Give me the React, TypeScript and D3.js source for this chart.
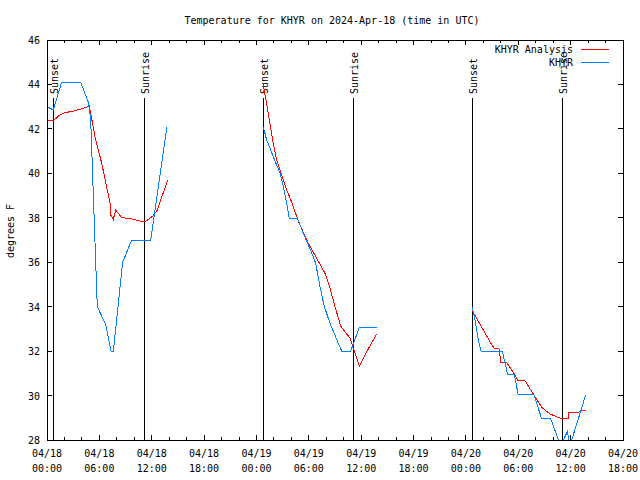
import React from "react";
import * as d3 from "d3";

// Time in hours since 2024-04-18 00:00 UTC, temperatures in degrees F
const obsHours1 = [0, 0.72, 1.68, 3.86, 4.73, 5.0, 5.76, 6.73, 7.33, 7.6, 8.67, 9.7, 11.88, 13.75];
const obsTemps1 = [43.0, 42.85, 44.1, 44.1, 43.2, 42.5, 34.0, 33.2, 32.0, 32.0, 36.0, 37.0, 37.0, 42.1];
const obsHours2 = [24.78, 25.17, 25.93, 26.7, 27.08, 27.47, 27.76, 28.73, 29.37, 30.51, 30.79, 31.28, 31.78, 32.43, 33.38, 33.77, 34.8, 35.79, 37.78];
const obsTemps2 = [42.1, 41.5, 40.75, 40.0, 39.4, 38.65, 37.98, 37.95, 37.3, 36.25, 35.95, 34.9, 34.0, 33.25, 32.35, 32.0, 32.0, 33.07, 33.07];
const obsHours3 = [48.73, 49.04, 49.42, 49.73, 52.17, 52.79, 53.55, 54.0, 55.8, 56.69, 57.72, 58.7, 59.05, 59.62, 59.85, 60.04, 61.73];
const obsTemps3 = [33.97, 33.4, 32.5, 32.0, 32.0, 30.93, 30.93, 30.03, 30.03, 28.95, 28.95, 27.9, 27.9, 28.37, 27.9, 27.9, 30.03];

const anaHours1 = [0, 0.72, 1.49, 2.06, 3.01, 3.97, 4.85, 5.5, 6.27, 7.22, 7.33, 7.6, 7.87, 8.56, 9.51, 10.66, 11.34, 12.18, 12.64, 13.83];
const anaTemps1 = [42.37, 42.37, 42.63, 42.73, 42.8, 42.9, 43.03, 41.65, 40.45, 38.67, 38.1, 37.93, 38.35, 38.0, 37.97, 37.85, 37.85, 38.1, 38.35, 39.7];
const anaHours2 = [24.78, 25.35, 25.86, 26.32, 26.7, 27.08, 27.47, 28.04, 28.68, 28.99, 29.94, 30.9, 31.85, 32.43, 33.0, 33.65, 34.15, 34.72, 35.29, 35.79, 36.63, 37.78];
const anaTemps2 = [44.0, 42.7, 41.5, 40.6, 40.15, 39.7, 39.25, 38.7, 37.98, 37.67, 36.85, 36.18, 35.5, 34.83, 34.0, 33.13, 32.87, 32.58, 31.9, 31.33, 31.97, 32.77];
const anaHours3 = [48.73, 49.24, 50.0, 50.76, 51.25, 51.79, 52.02, 52.68, 53.63, 53.94, 54.77, 55.72, 56.69, 57.64, 58.98, 59.73, 59.75, 60.96, 61.0, 61.73];
const anaTemps3 = [33.82, 33.47, 32.95, 32.42, 32.12, 32.12, 31.48, 31.48, 30.93, 30.67, 30.67, 30.07, 29.47, 29.17, 28.95, 28.95, 29.25, 29.25, 29.3, 29.35];

const sunsetHours = [0.72, 24.78, 48.73];
const sunriseHours = [11.15, 35.1, 59.05];

const yTicks = [28, 30, 32, 34, 36, 38, 40, 42, 44, 46];
const xMajorTicks = [0, 6, 12, 18, 24, 30, 36, 42, 48, 54, 60, 66];
const xMinorTicks = d3.range(0, 67, 2);
const dayLabels = ["04/18", "04/19", "04/20", "04/21"];

const title = "Temperature for KHYR on 2024-Apr-18 (time in UTC)";
const yLabel = "degrees F";
const analysisName = "KHYR Analysis";
const obsName = "KHYR";

const RED = "#ff0000";
const BLUE = "#0080ff";
const FONT = "'DejaVu Sans Mono', monospace";

export default function App() {
  const left = 47, right = 623, top = 40, bottom = 440;
  const x = d3.scaleLinear().domain([0, 66]).range([left, right]);
  const y = d3.scaleLinear().domain([28, 46]).range([bottom, top]);

  const line = d3
    .line<[number, number]>()
    .x((d) => x(d[0]))
    .y((d) => y(d[1]));

  const zip = (h: number[], t: number[]) => h.map((v, i) => [v, t[i]] as [number, number]);

  const obsSegs = [zip(obsHours1, obsTemps1), zip(obsHours2, obsTemps2), zip(obsHours3, obsTemps3)];
  const anaSegs = [zip(anaHours1, anaTemps1), zip(anaHours2, anaTemps2), zip(anaHours3, anaTemps3)];

  const pad = (n: number) => (n < 10 ? "0" + n : "" + n);

  return (
    <svg
      width={640}
      height={480}
      style={{ position: "absolute", left: 0, top: 0, background: "#fff" }}
      fontFamily={FONT}
      fontSize={10}
    >
      <defs>
        <clipPath id="plotclip">
          <rect x={left} y={top} width={right - left} height={bottom - top + 1} />
        </clipPath>
      </defs>
      <rect x={0} y={0} width={640} height={480} fill="#fff" />

      {/* title */}
      <text x={332} y={24} textAnchor="middle" fill="#000">
        {title}
      </text>

      {/* y label */}
      <text transform={`translate(14,231) rotate(-90)`} textAnchor="middle" fill="#000">
        {yLabel}
      </text>

      {/* y ticks */}
      {yTicks.map((t) => (
        <g key={"y" + t}>
          <line x1={left} x2={left + 5} y1={y(t)} y2={y(t)} stroke="#000" shapeRendering="crispEdges" />
          <line x1={right - 5} x2={right} y1={y(t)} y2={y(t)} stroke="#000" shapeRendering="crispEdges" />
          <text x={40} y={y(t) + 4} textAnchor="end" fill="#000">
            {t}
          </text>
        </g>
      ))}

      {/* x ticks */}
      {xMinorTicks.map((h) => {
        const major = h % 6 === 0;
        const len = major ? 5 : 3;
        return (
          <g key={"xm" + h}>
            <line x1={x(h)} x2={x(h)} y1={bottom} y2={bottom - len} stroke="#000" shapeRendering="crispEdges" />
            <line x1={x(h)} x2={x(h)} y1={top} y2={top + len} stroke="#000" shapeRendering="crispEdges" />
          </g>
        );
      })}
      {xMajorTicks.map((h) => (
        <g key={"xl" + h}>
          <text x={x(h)} y={457} textAnchor="middle" fill="#000">
            {dayLabels[Math.floor(h / 24)]}
          </text>
          <text x={x(h)} y={472} textAnchor="middle" fill="#000">
            {pad(h % 24) + ":00"}
          </text>
        </g>
      ))}

      {/* sunset / sunrise lines */}
      {sunsetHours.map((h) => (
        <g key={"ss" + h}>
          <line x1={x(h)} x2={x(h)} y1={98} y2={bottom} stroke="#000" shapeRendering="crispEdges" />
          <text transform={`translate(${x(h) + 4.5},94) rotate(-90)`} textAnchor="start" fill="#000">
            Sunset
          </text>
        </g>
      ))}
      {sunriseHours.map((h) => (
        <g key={"sr" + h}>
          <line x1={x(h)} x2={x(h)} y1={98} y2={bottom} stroke="#000" shapeRendering="crispEdges" />
          <text transform={`translate(${x(h) + 4.5},94) rotate(-90)`} textAnchor="start" fill="#000">
            Sunrise
          </text>
        </g>
      ))}

      {/* data */}
      <g clipPath="url(#plotclip)">
        {anaSegs.map((s, i) => (
          <path key={"a" + i} d={line(s) || ""} fill="none" stroke={RED} strokeWidth={1} shapeRendering="crispEdges" />
        ))}
        {obsSegs.map((s, i) => (
          <path key={"o" + i} d={line(s) || ""} fill="none" stroke={BLUE} strokeWidth={1} shapeRendering="crispEdges" />
        ))}
      </g>

      {/* border */}
      <rect
        x={left}
        y={top}
        width={right - left}
        height={bottom - top}
        fill="none"
        stroke="#000"
        shapeRendering="crispEdges"
      />

      {/* legend */}
      <text x={573} y={53} textAnchor="end" fill="#000">
        {analysisName}
      </text>
      <line x1={581} x2={609} y1={49.5} y2={49.5} stroke={RED} shapeRendering="crispEdges" />
      <text x={573} y={66} textAnchor="end" fill="#000">
        {obsName}
      </text>
      <line x1={581} x2={609} y1={62.5} y2={62.5} stroke={BLUE} shapeRendering="crispEdges" />
    </svg>
  );
}
